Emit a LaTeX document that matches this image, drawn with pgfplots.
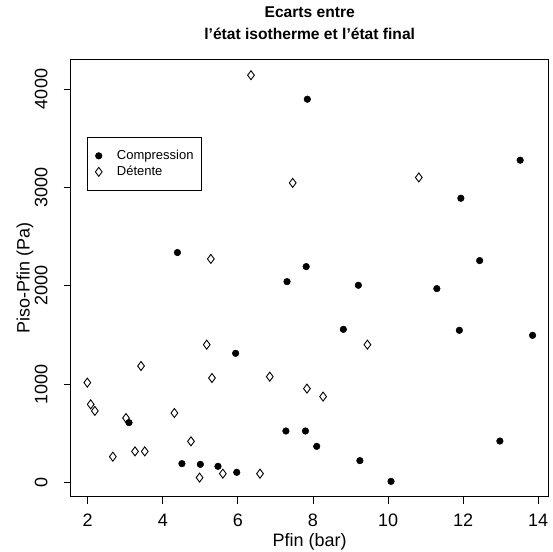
\documentclass[border=0pt]{standalone}
\usepackage{pgfplots}
\pgfplotsset{compat=1.18}
\usepackage{pgfplotstable}
\usepackage{fontspec}
\setmainfont{Liberation Sans}

\pgfplotstableread{
x y
4.39 2337
7.85 3896
13.52 3276
11.94 2889
12.44 2255
7.82 2194
7.31 2041
9.21 2004
11.30 1970
8.81 1556
11.90 1546
13.85 1495
5.94 1312
3.10 607
7.28 522
7.80 522
12.98 420
8.10 366
9.25 221
4.51 190
5.00 183
5.47 163
5.97 102
10.08 10
}\compdata

\pgfplotstableread{
x y
6.35 4140
10.82 3100
7.46 3045
5.28 2272
5.17 1400
9.45 1400
3.42 1183
6.85 1075
5.31 1061
1.99 1014
7.84 953
8.27 872
2.08 793
2.19 726
4.31 705
3.02 654
4.75 417
3.26 315
3.52 315
2.67 261
5.60 88
6.59 88
4.98 48
}\detdata

\begin{document}
\begin{tikzpicture}
\begin{axis}[
  name=ax,
  at={(0pt,0pt)}, anchor=south west,
  scale only axis,
  width=478pt, height=437.7pt,
  xmin=1.547, xmax=14.28,
  ymin=-146, ymax=4305,
  xtick={2,4,...,14},
  ytick={0,1000,2000,3000,4000},
  tick align=outside,
  xtick pos=bottom, ytick pos=left,
  major tick length=7pt,
  tick style={black, line width=0.8pt},
  axis line style={black, line width=0.8pt},
  /pgf/number format/assume math mode=true,
  /pgf/number format/1000 sep={},
  ticklabel style={font=\fontsize{18}{21}\selectfont},
  xticklabel style={anchor=north, inner sep=0pt, yshift=-10.5pt},
  yticklabel style={rotate=90, anchor=south, inner sep=0pt, yshift=16pt},
  xlabel={Pfin (bar)},
  ylabel={Piso-Pfin (Pa)},
  label style={font=\fontsize{18}{21}\selectfont},
  xlabel style={at={(axis description cs:0.5,-0.1028)}, anchor=center, inner sep=0pt},
  ylabel style={at={(axis description cs:-0.0956,0.5)}, anchor=center, rotate=0, inner sep=0pt},
  title={Ecarts entre\\l'état isotherme et l'état final},
  title style={at={(axis description cs:0.5,1)}, anchor=south, yshift=13.4pt, inner sep=0pt,
    align=center, font=\fontsize{15.6}{22}\selectfont\bfseries},
  legend style={at={(axis description cs:0.0351,0.8218)}, anchor=north west,
    draw=black, line width=0.8pt, font=\fontsize{13}{15}\selectfont,
    nodes={inner sep=0pt},
    inner xsep=7.5pt, inner ysep=13pt, row sep=5pt, column sep=8.2pt,
    legend cell align=left},
  legend image code/.code={%
    \path[draw=none, fill=none] (0pt,-3pt) rectangle (12pt,3pt);
    \draw[#1] plot coordinates {(2pt,0pt)};},
  clip=false,
]
\addplot[only marks, mark=*, mark size=3.3pt, black, mark options={fill=black, line width=0.5pt}] table[x=x,y=y] {\compdata};
\addlegendentry{Compression}
\addplot[only marks, mark=diamond, mark size=4.5pt, black, mark options={line width=0.9pt}] table[x=x,y=y] {\detdata};
\addlegendentry{Détente}
\end{axis}
\pgfresetboundingbox
\path (ax.south west) ++(-70.7pt,-54.3pt) rectangle ([shift={(4.3pt,59pt)}]ax.north east);
\end{tikzpicture}
\end{document}
